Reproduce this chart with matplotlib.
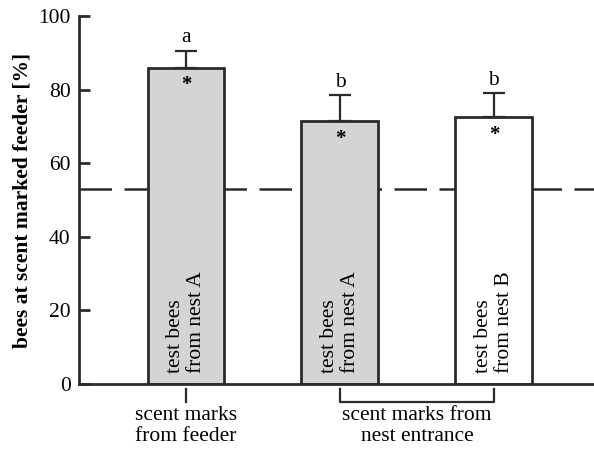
import matplotlib.pyplot as plt

plt.rcParams['font.family'] = ['Liberation Serif', 'DejaVu Serif']

# mean share of bees choosing the scent-marked feeder
means = [86, 71.5, 72.5]
errs = [4.6, 7.0, 6.5]
fills = ['#d4d4d4', '#d4d4d4', 'white']
bar_text = ['test bees\nfrom nest A', 'test bees\nfrom nest A', 'test bees\nfrom nest B']
letters = ['a', 'b', 'b']
chance = 53
ticks = [0, 20, 40, 60, 80, 100]

edge = '#2b2b2b'
fig = plt.figure(figsize=(5.94, 4.5), dpi=100)
ax = fig.add_axes([0.133, 0.147, 0.867, 0.817])

x = range(len(means))
ax.bar(x, means, width=0.5, color=fills, edgecolor=edge, linewidth=2, zorder=2)
ax.errorbar(x, means, yerr=[[0] * 3, errs], fmt='none', ecolor=edge,
            elinewidth=1.6, capsize=8, capthick=1.6, zorder=3)
ax.axhline(chance, color=edge, lw=1.8, dashes=(13, 5), zorder=1)

for i in x:
    ax.text(i, means[i] - 4.8, '*', ha='center', va='center', fontsize=15,
            fontweight='bold', zorder=4)
    ax.text(i, means[i] + errs[i] + 1.0, letters[i], ha='center', va='bottom', fontsize=15.5)
    ax.text(i, 3, bar_text[i], rotation=90, ha='center', va='bottom',
            multialignment='left', fontsize=15.5, linespacing=1.2, zorder=4)

# group markers under the axis
ax.plot([0, 0], [-1.4, -4.9], color=edge, lw=1.6, clip_on=False)
ax.plot([1, 1, 2, 2], [-1.4, -4.9, -4.9, -1.4], color=edge, lw=1.6, clip_on=False)
ax.text(0, -6.0, 'scent marks\nfrom feeder', ha='center', va='top', fontsize=15.5, linespacing=1.15)
ax.text(1.5, -6.0, 'scent marks from\nnest entrance', ha='center', va='top', fontsize=15.5, linespacing=1.15)

ax.set_xlim(-0.695, 2.65)
ax.set_ylim(0, 100)
ax.set_yticks(ticks)
ax.set_xticks([])
ax.tick_params(axis='y', direction='in', length=8, width=2, color=edge, labelsize=15.5, pad=6)
for s in ['top', 'right']:
    ax.spines[s].set_visible(False)
for s in ['left', 'bottom']:
    ax.spines[s].set_linewidth(2)
    ax.spines[s].set_color(edge)
ax.set_ylabel('bees at scent marked feeder [%]', fontsize=15.5, fontweight='bold', labelpad=4)

fig.savefig('out.png')
